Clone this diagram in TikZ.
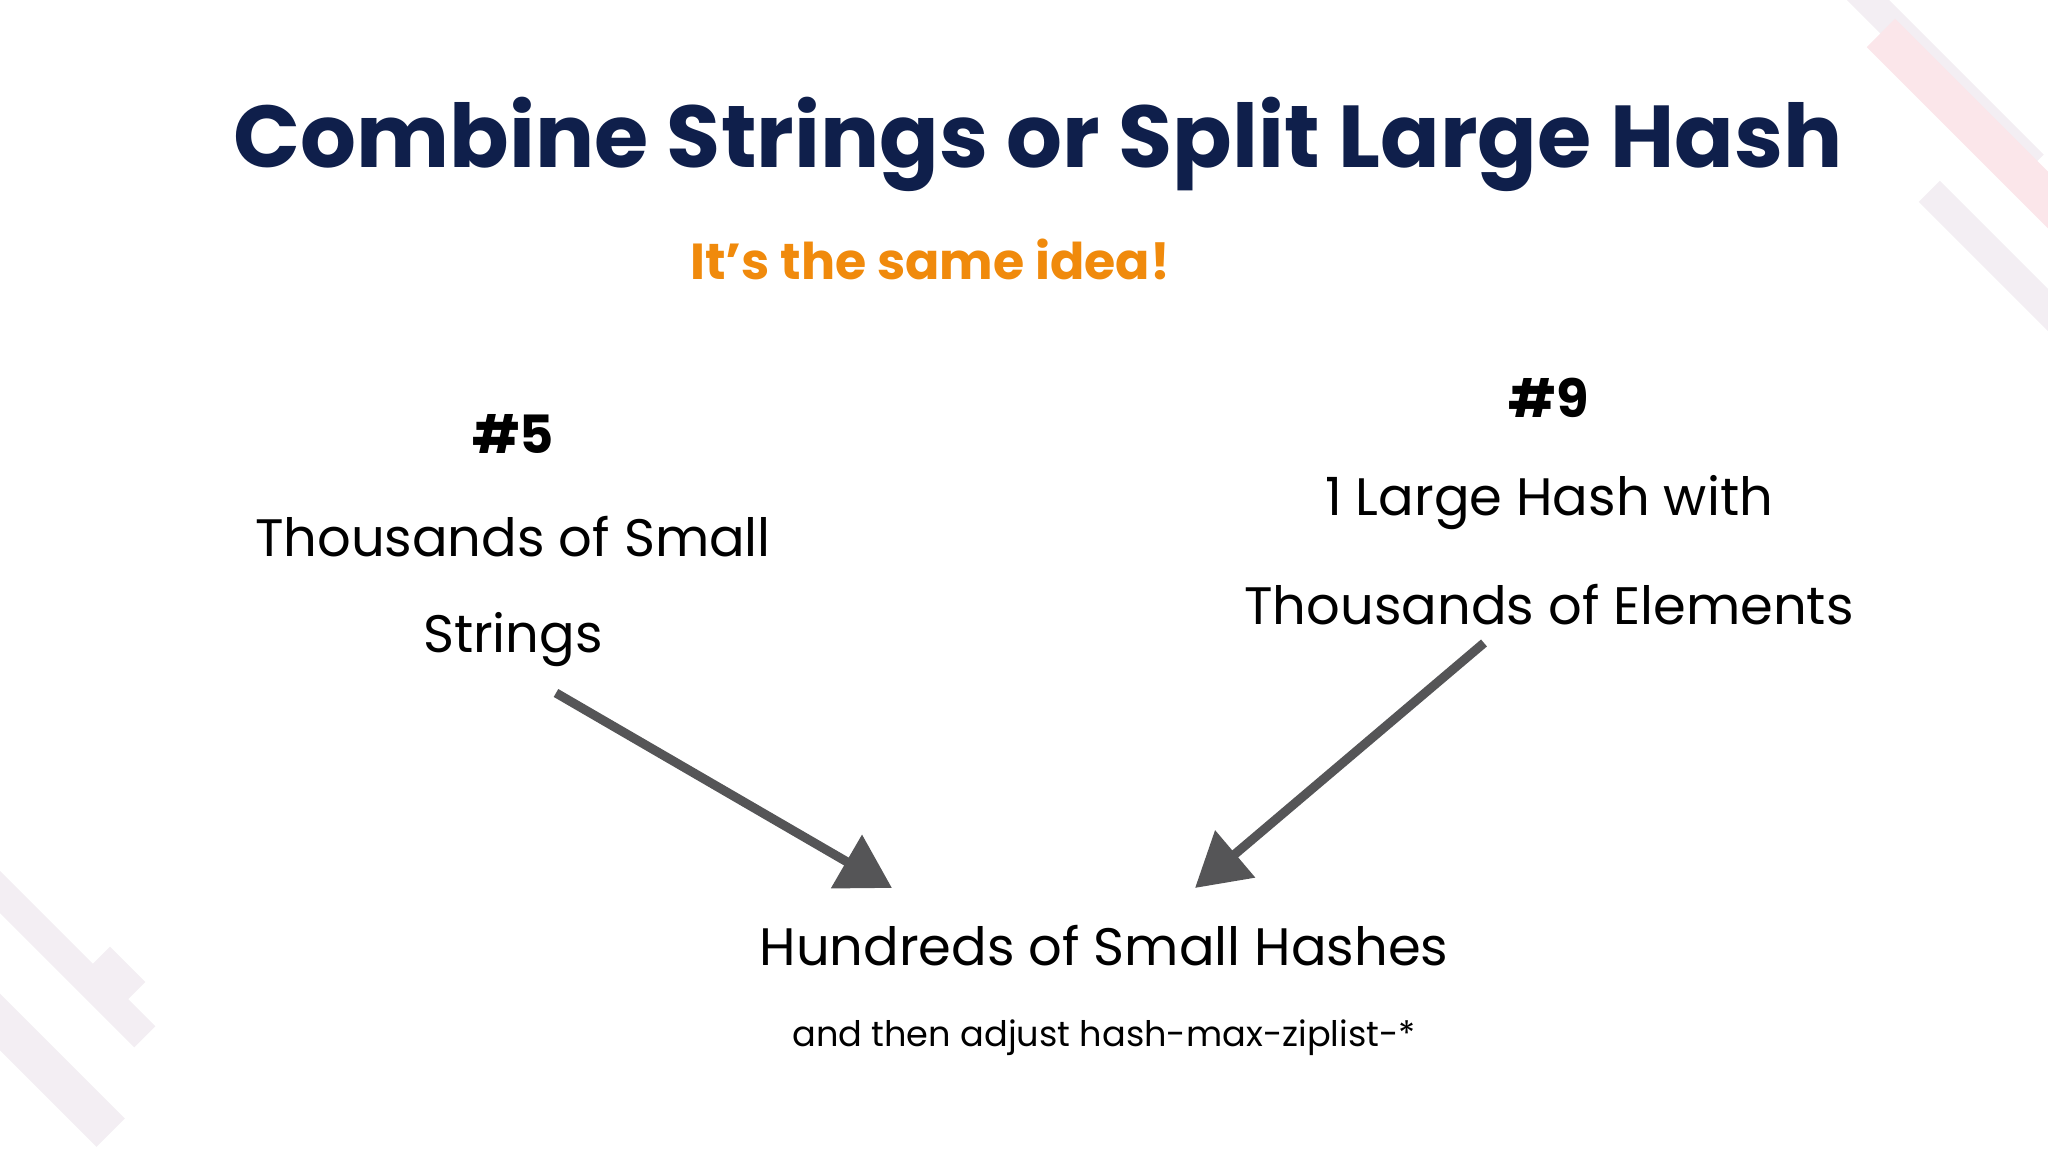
\documentclass[tikz,border=0pt]{standalone}
\usepackage{fontspec}
\setmainfont{Poppins}
\usetikzlibrary{arrows.meta}
\definecolor{navy}{HTML}{0F1F4B}
\definecolor{idea}{HTML}{F08A0C}
\definecolor{arrowgray}{HTML}{555557}
\definecolor{stripe}{HTML}{F3EEF3}
\definecolor{stripered}{HTML}{FBE6EA}
\begin{document}
\begin{tikzpicture}[
        title/.style={font=\fontsize{25}{30}\selectfont\bfseries, text=navy},
        subtitle/.style={font=\fontsize{14.4}{17}\selectfont\bfseries, text=idea},
        label/.style={font=\fontsize{15}{18}\selectfont},
        number/.style={font=\fontsize{15}{18}\selectfont\bfseries},
        note/.style={font=\fontsize{10}{12}\selectfont},
        link/.style={draw=arrowgray, line width=2.6pt, -{Triangle[length=15pt,width=17pt]}},
    ]
    \useasboundingbox (0,0) rectangle (20.48,11.52);
    % corner stripes
    \fill[stripe, rotate around={-45:(19.2,11)}] (17.6,10.85) rectangle (20.8,11.15);
    \fill[stripered, rotate around={-45:(19.8,10.2)}] (18.4,10.0) rectangle (21.2,10.4);
    \fill[stripe, rotate around={-45:(20.0,8.9)}] (19.0,8.75) rectangle (21.0,9.05);
    \fill[stripe, rotate around={-45:(0.6,2.0)}] (-0.6,1.85) rectangle (1.8,2.15);
    \fill[stripe, rotate around={-45:(0.4,0.9)}] (-0.6,0.7) rectangle (1.4,1.1);
    \fill[stripe, rotate around={45:(1.1,1.7)}] (0.85,1.45) rectangle (1.35,1.95);

    \node[title] (heading) at (10.38,10.08) {Combine Strings or Split Large Hash};
    \node[subtitle] (idea) at (9.30,8.93) {It’s the same idea!};

    \node[number] (five) at (5.13,7.18) {\#5};
    \node[label] (small1) at (5.13,6.15) {Thousands of Small};
    \node[label] (small2) at (5.13,5.12) {Strings};

    \node[number] (nine) at (15.49,7.54) {\#9};
    \node[label] (large1) at (15.49,6.49) {1 Large Hash with};
    \node[label] (large2) at (15.49,5.47) {Thousands of Elements};

    \node[label] (hashes) at (11.04,2.06) {Hundreds of Small Hashes};
    \node[note] (adjust) at (11.04,1.14) {and then adjust hash-max-ziplist-*};

    \coordinate (leftfrom) at (5.56,4.59);
    \coordinate (leftto) at (8.92,2.64);
    \coordinate (rightfrom) at (14.84,5.09);
    \coordinate (rightto) at (11.95,2.64);
    \draw[link] (leftfrom) -- (leftto);
    \draw[link] (rightfrom) -- (rightto);
\end{tikzpicture}
\end{document}
